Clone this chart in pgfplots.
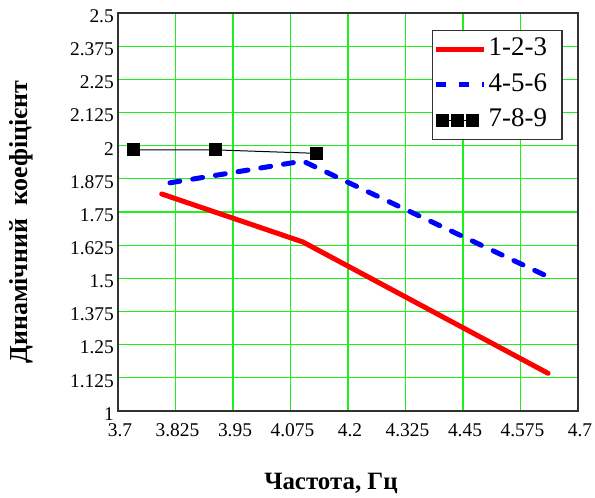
\documentclass[border=0pt]{standalone}
\usepackage{fontspec}
\setmainfont{Liberation Serif}
\usepackage{pgfplots}
\pgfplotsset{compat=1.18}
\definecolor{gridgreen}{RGB}{30,240,30}
\definecolor{frame}{RGB}{50,50,50}
\pgfplotsset{
  lineleg/.style={legend image code/.code={\draw[##1, line cap=butt] (0bp,0bp) -- (48bp,0bp);}},
  markleg/.style={legend image code/.code={\draw[mark repeat=1,mark phase=1,##1] plot coordinates {(6bp,0bp) (21bp,0bp) (36bp,0bp)};}},
}
\begin{document}
\begin{tikzpicture}
\useasboundingbox (-118bp,-87bp) rectangle (477bp,411bp);
\begin{axis}[
  at={(0,0)}, anchor=origin,
  scale only axis,
  width=460bp, height=398bp,
  xmin=3.7, xmax=4.7, ymin=1, ymax=2.5,
  xtick={3.7,3.825,3.95,4.075,4.2,4.325,4.45,4.575,4.7},
  ytick={1,1.125,1.25,1.375,1.5,1.625,1.75,1.875,2,2.125,2.25,2.375,2.5},
  xticklabels={3.7,3.825,3.95,4.075,4.2,4.325,4.45,4.575,4.7},
  yticklabels={1,1.125,1.25,1.375,1.5,1.625,1.75,1.875,2,2.125,2.25,2.375,2.5},
  major tick length=0pt,
  grid=major,
  major grid style={gridgreen, line width=1.2bp},
  axis line style={frame, line width=1.3bp},
  /pgf/number format/assume math mode=true,
  xticklabel style={font=\rmfamily\fontsize{19.5}{20}\selectfont, anchor=center, yshift=-19bp, xshift=2bp, inner sep=0pt},
  yticklabel style={font=\rmfamily\fontsize{19.5}{20}\selectfont, anchor=east, xshift=-4bp, yshift=-3bp, inner sep=0pt},
  xlabel={\textbf{Частота, Гц}},
  ylabel={\textbf{Динамічний\ \ коефіцієнт}},
  xlabel style={at={(axis description cs:0.463,-0.181)}, anchor=center, font=\rmfamily\fontsize{25}{26}\selectfont},
  ylabel style={at={(axis description cs:-0.211,0.475)}, anchor=center, rotate=0, font=\rmfamily\fontsize{26}{27}\selectfont},
  legend style={at={(axis description cs:0.683,0.957)}, anchor=north west,
    draw=frame, line width=1.1bp, fill=white,
    font=\rmfamily\fontsize{27}{27}\selectfont,
    inner xsep=1bp, inner ysep=1bp, row sep=0pt,
    nodes={inner sep=2bp, text height=22bp, text depth=9.5bp, anchor=west}},
  legend cell align=left,
]
\addplot[red, line width=5bp, line cap=round, line join=round, lineleg]
  coordinates {(3.795,1.818) (4.102,1.637) (4.635,1.142)};
\addlegendentry{1-2-3\rule{12bp}{0pt}}
\addplot[blue, line width=5bp, line cap=round, dash pattern=on 10bp off 13bp, lineleg]
  coordinates {(3.813,1.860) (4.102,1.942) (4.635,1.506)};
\addlegendentry{4-5-6\rule{12bp}{0pt}}
\addplot[black, line width=1bp, mark=square*, mark size=6bp,
  mark options={solid}, markleg]
  coordinates {(3.733,1.984) (3.913,1.984) (4.132,1.971)};
\addlegendentry{7-8-9\rule{12bp}{0pt}}
\end{axis}
\end{tikzpicture}
\end{document}
